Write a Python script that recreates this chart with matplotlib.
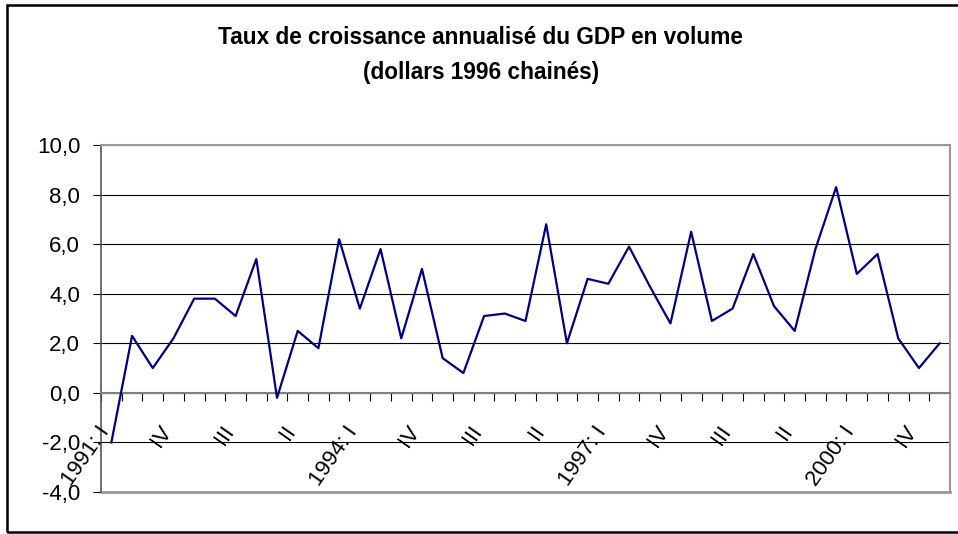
import numpy as np
import matplotlib
matplotlib.use('Agg')
import matplotlib.pyplot as plt
import matplotlib.patches as patches
import matplotlib.transforms as mtransforms

plt.rcParams['font.family'] = ['Liberation Sans', 'DejaVu Sans']

# Trimestres 1991:I - 2001:I
trimestres = [
    '1991: I', 'II', 'III', 'IV',
    '1992: I', 'II', 'III', 'IV',
    '1993: I', 'II', 'III', 'IV',
    '1994: I', 'II', 'III', 'IV',
    '1995: I', 'II', 'III', 'IV',
    '1996: I', 'II', 'III', 'IV',
    '1997: I', 'II', 'III', 'IV',
    '1998: I', 'II', 'III', 'IV',
    '1999: I', 'II', 'III', 'IV',
    '2000: I', 'II', 'III', 'IV',
    '2001: I',
]

# Taux de croissance annualisé (%)
croissance = [
    -2.0, 2.3, 1.0, 2.2, 3.8, 3.8, 3.1, 5.4,
    -0.2, 2.5, 1.8, 6.2, 3.4, 5.8, 2.2, 5.0,
    1.4, 0.8, 3.1, 3.2, 2.9, 6.8, 2.0, 4.6,
    4.4, 5.9, 4.3, 2.8, 6.5, 2.9, 3.4, 5.6,
    3.5, 2.5, 5.8, 8.3, 4.8, 5.6, 2.2, 1.0,
    2.0,
]

y_ticks = [-4, -2, 0, 2, 4, 6, 8, 10]
y_labels = ['-4,0', '-2,0', '0,0', '2,0', '4,0', '6,0', '8,0', '10,0']

fig = plt.figure(figsize=(9.58, 5.34), dpi=100)
ax = fig.add_axes([101 / 958, 1 - 492 / 534, 849 / 958, 347 / 534])

x = np.arange(len(croissance))
ax.plot(x, croissance, color='#000080', lw=1.6, zorder=3)

ax.set_xlim(-0.5, len(croissance) - 0.5)
ax.set_ylim(-4, 10)

# grille et axes
ax.set_yticks(y_ticks)
ax.set_yticklabels(y_labels, fontsize=16)
ax.yaxis.grid(True, color='black', lw=0.8)
ax.set_axisbelow(True)
ax.tick_params(axis='y', direction='out', length=6, width=0.8, pad=9)

ax.spines['bottom'].set_position(('data', 0))
ax.spines['bottom'].set_color('#808080')
ax.spines['bottom'].set_linewidth(1.5)
for s in ['top', 'right']:
    ax.spines[s].set_color('#999999')
    ax.spines[s].set_linewidth(1.5)
ax.spines['left'].set_color('#555555')
ax.spines['left'].set_linewidth(1.2)
ax.axhline(-4, color='#999999', lw=2, clip_on=False)

ax.set_xticks(np.arange(-0.5, len(croissance), 1.0))
ax.set_xticklabels([])
ax.tick_params(axis='x', direction='out', length=6, width=0.8, color='black')

# étiquettes des trimestres (une sur trois)
offset = mtransforms.ScaledTranslation(-6 / 100, -35 / 100, fig.dpi_scale_trans)
for i in range(0, len(trimestres), 3):
    if i >= 40:
        continue
    ax.text(i, 0, trimestres[i], rotation=55, rotation_mode='anchor',
            ha='right', va='center', fontsize=16,
            transform=ax.transData + offset, clip_on=False)

fig.text(0.502, 1 - 37 / 534, 'Taux de croissance annualisé du GDP en volume',
         ha='center', va='center', fontsize=16.3, fontweight='bold')
fig.text(0.502, 1 - 72 / 534, '(dollars 1996 chainés)',
         ha='center', va='center', fontsize=16.3, fontweight='bold')

cadre = patches.Rectangle((7 / 958, 1 - 532 / 534), 1.0, 527 / 534,
                          transform=fig.transFigure, fill=False,
                          edgecolor='black', lw=1.8)
fig.patches.append(cadre)

fig.savefig('out.png', dpi=100)
